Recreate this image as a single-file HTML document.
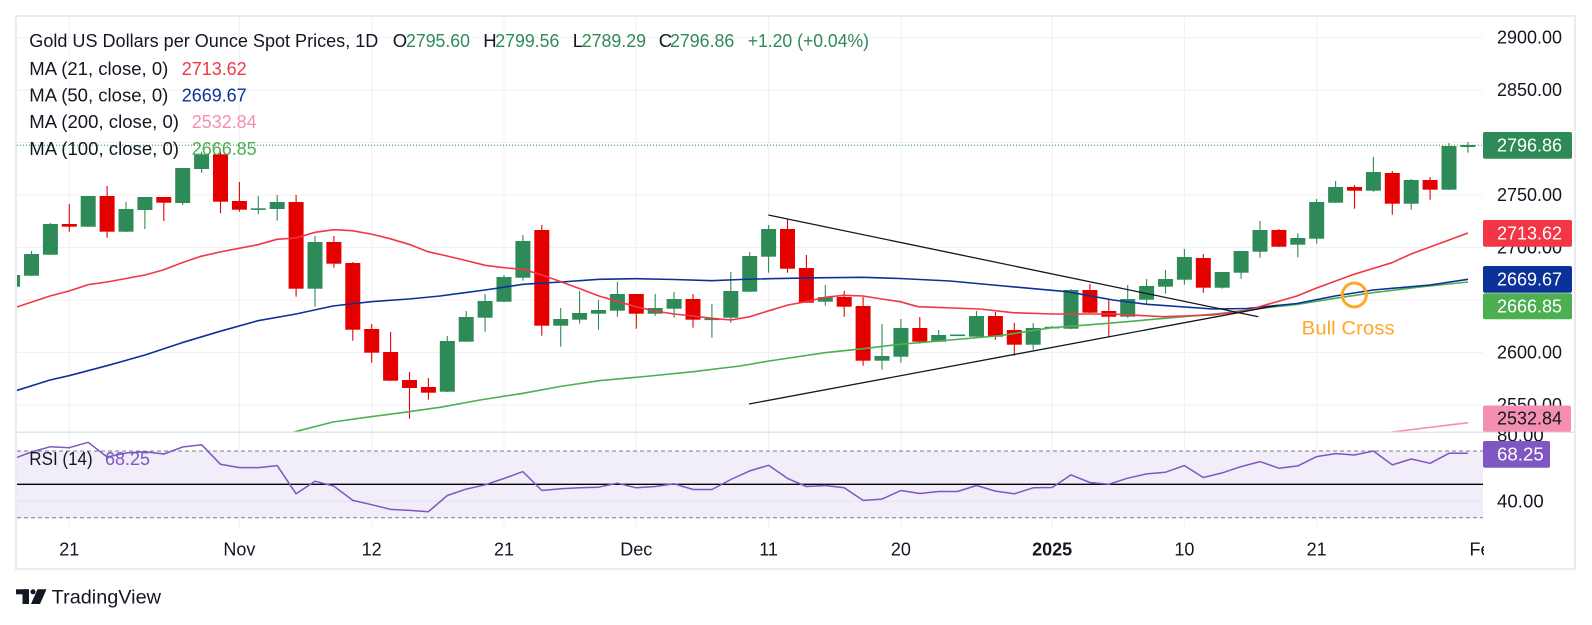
<!DOCTYPE html>
<html><head><meta charset="utf-8"><style>
html,body{margin:0;padding:0;background:#fff;width:1592px;height:625px;overflow:hidden}
svg{display:block}
text{font-family:"Liberation Sans",sans-serif;dominant-baseline:central}
</style></head><body>
<svg width="1592" height="625" viewBox="0 0 1592 625" xmlns="http://www.w3.org/2000/svg">
<defs>
<clipPath id="cp"><rect x="17" y="17" width="1466" height="415"/></clipPath>
<clipPath id="cr"><rect x="17" y="433" width="1466" height="94"/></clipPath>
<clipPath id="cx"><rect x="17" y="530" width="1467" height="38"/></clipPath>
</defs>
<rect width="1592" height="625" fill="#fff"/>
<!-- grid price -->
<g stroke="#F0F1F5" stroke-width="1">
<line x1="17" y1="37.5" x2="1483" y2="37.5"/><line x1="17" y1="90" x2="1483" y2="90"/><line x1="17" y1="142.5" x2="1483" y2="142.5"/><line x1="17" y1="195" x2="1483" y2="195"/><line x1="17" y1="247.5" x2="1483" y2="247.5"/><line x1="17" y1="300" x2="1483" y2="300"/><line x1="17" y1="352.5" x2="1483" y2="352.5"/><line x1="17" y1="405" x2="1483" y2="405"/>
<line x1="17" y1="501.3" x2="1483" y2="501.3"/>
<g>
<line x1="69.3" y1="17" x2="69.3" y2="527"/><line x1="239.4" y1="17" x2="239.4" y2="527"/><line x1="371.7" y1="17" x2="371.7" y2="527"/><line x1="504" y1="17" x2="504" y2="527"/><line x1="636.3" y1="17" x2="636.3" y2="527"/><line x1="768.6" y1="17" x2="768.6" y2="527"/><line x1="900.9" y1="17" x2="900.9" y2="527"/><line x1="1052.1" y1="17" x2="1052.1" y2="527"/><line x1="1184.4" y1="17" x2="1184.4" y2="527"/><line x1="1316.7" y1="17" x2="1316.7" y2="527"/>
</g>
</g>
<!-- price line dotted -->
<line x1="17" y1="145.3" x2="1483" y2="145.3" stroke="#2E8B57" stroke-width="1" stroke-dasharray="1 2"/>
<!-- candles -->
<g clip-path="url(#cp)">
<g stroke="#2E8B57" stroke-width="1.1">
<line x1="12.6" y1="272" x2="12.6" y2="290"/><line x1="31.5" y1="251" x2="31.5" y2="276"/><line x1="50.4" y1="223" x2="50.4" y2="255"/><line x1="88.2" y1="196" x2="88.2" y2="227"/><line x1="126" y1="202" x2="126" y2="232"/><line x1="144.9" y1="197" x2="144.9" y2="229"/><line x1="182.7" y1="168" x2="182.7" y2="205"/><line x1="201.6" y1="151.7" x2="201.6" y2="172.7"/><line x1="258.3" y1="196" x2="258.3" y2="214.3"/><line x1="277.2" y1="195" x2="277.2" y2="220.7"/><line x1="315" y1="236" x2="315" y2="306.7"/><line x1="447.3" y1="336" x2="447.3" y2="392"/><line x1="466.2" y1="311" x2="466.2" y2="342"/><line x1="485.1" y1="294" x2="485.1" y2="331.7"/><line x1="504" y1="275" x2="504" y2="302"/><line x1="522.9" y1="235" x2="522.9" y2="280.7"/><line x1="560.7" y1="308" x2="560.7" y2="346.7"/><line x1="579.6" y1="291" x2="579.6" y2="323.7"/><line x1="598.5" y1="300" x2="598.5" y2="329.7"/><line x1="617.4" y1="282" x2="617.4" y2="316.7"/><line x1="655.2" y1="294" x2="655.2" y2="315.7"/><line x1="674.1" y1="292" x2="674.1" y2="317.7"/><line x1="711.9" y1="304" x2="711.9" y2="337.7"/><line x1="730.8" y1="272" x2="730.8" y2="322.7"/><line x1="749.7" y1="252" x2="749.7" y2="292"/><line x1="768.6" y1="225" x2="768.6" y2="272.7"/><line x1="825.3" y1="285" x2="825.3" y2="305.7"/><line x1="882" y1="324" x2="882" y2="369.7"/><line x1="900.9" y1="319" x2="900.9" y2="362.7"/><line x1="938.7" y1="330" x2="938.7" y2="342"/><line x1="976.5" y1="311" x2="976.5" y2="337"/><line x1="1033.2" y1="323" x2="1033.2" y2="349.7"/><line x1="1052.1" y1="326" x2="1052.1" y2="328.5"/><line x1="1071" y1="289" x2="1071" y2="329"/><line x1="1127.7" y1="285" x2="1127.7" y2="317.7"/><line x1="1146.6" y1="279" x2="1146.6" y2="304.7"/><line x1="1165.5" y1="270" x2="1165.5" y2="293.7"/><line x1="1184.4" y1="249" x2="1184.4" y2="284.7"/><line x1="1222.2" y1="272" x2="1222.2" y2="288.7"/><line x1="1241.1" y1="251" x2="1241.1" y2="278.7"/><line x1="1260" y1="221" x2="1260" y2="257.7"/><line x1="1297.8" y1="233.3" x2="1297.8" y2="257.3"/><line x1="1316.7" y1="199" x2="1316.7" y2="243.7"/><line x1="1335.6" y1="181" x2="1335.6" y2="203"/><line x1="1373.4" y1="157" x2="1373.4" y2="191.7"/><line x1="1411.2" y1="179" x2="1411.2" y2="209.7"/><line x1="1449" y1="143" x2="1449" y2="190"/><line x1="1467.9" y1="142" x2="1467.9" y2="152.7"/>
</g>
<g fill="#2E8B57">
<rect x="5.1" y="275" width="15" height="11.7"/><rect x="24" y="254" width="15" height="21.7"/><rect x="42.9" y="224" width="15" height="30.7"/><rect x="80.7" y="196" width="15" height="30.7"/><rect x="118.5" y="209" width="15" height="22.7"/><rect x="137.4" y="197" width="15" height="13"/><rect x="175.2" y="168" width="15" height="35"/><rect x="194.1" y="154.3" width="15" height="14.7"/><rect x="250.8" y="208.3" width="15" height="1.6"/><rect x="269.7" y="202" width="15" height="7"/><rect x="307.5" y="242" width="15" height="46.7"/><rect x="439.8" y="341" width="15" height="50.7"/><rect x="458.7" y="317" width="15" height="24.7"/><rect x="477.6" y="301" width="15" height="16.7"/><rect x="496.5" y="277" width="15" height="24.7"/><rect x="515.4" y="241" width="15" height="36.7"/><rect x="553.2" y="319" width="15" height="6.7"/><rect x="572.1" y="313" width="15" height="6.7"/><rect x="591" y="310" width="15" height="3.7"/><rect x="609.9" y="294" width="15" height="16.7"/><rect x="647.7" y="308" width="15" height="5.7"/><rect x="666.6" y="299" width="15" height="9.7"/><rect x="704.4" y="318.5" width="15" height="1.6"/><rect x="723.3" y="291" width="15" height="26.7"/><rect x="742.2" y="256" width="15" height="35.7"/><rect x="761.1" y="229" width="15" height="27.7"/><rect x="817.8" y="297" width="15" height="4.7"/><rect x="874.5" y="356" width="15" height="4.7"/><rect x="893.4" y="328" width="15" height="28.7"/><rect x="931.2" y="335" width="15" height="6.7"/><rect x="950.1" y="334.5" width="15" height="1.6"/><rect x="969" y="316" width="15" height="20.7"/><rect x="1025.7" y="328" width="15" height="16.7"/><rect x="1044.6" y="326.8" width="15" height="1.6"/><rect x="1063.5" y="290" width="15" height="38.7"/><rect x="1120.2" y="299" width="15" height="17.7"/><rect x="1139.1" y="286" width="15" height="13.7"/><rect x="1158" y="279" width="15" height="7.7"/><rect x="1176.9" y="257" width="15" height="22.7"/><rect x="1214.7" y="272" width="15" height="15.7"/><rect x="1233.6" y="251" width="15" height="21.7"/><rect x="1252.5" y="230" width="15" height="21.7"/><rect x="1290.3" y="238" width="15" height="6.7"/><rect x="1309.2" y="202" width="15" height="36.7"/><rect x="1328.1" y="187" width="15" height="15.7"/><rect x="1365.9" y="172" width="15" height="18.7"/><rect x="1403.7" y="180" width="15" height="23.7"/><rect x="1441.5" y="146" width="15" height="43.7"/><rect x="1460.4" y="145" width="15" height="2"/>
</g>
<g stroke="#E50000" stroke-width="1.1">
<line x1="69.3" y1="204" x2="69.3" y2="231.7"/><line x1="107.1" y1="186" x2="107.1" y2="237.7"/><line x1="163.8" y1="197" x2="163.8" y2="221"/><line x1="220.5" y1="151.7" x2="220.5" y2="213.3"/><line x1="239.4" y1="182" x2="239.4" y2="211.7"/><line x1="296.1" y1="195" x2="296.1" y2="296.7"/><line x1="333.9" y1="236" x2="333.9" y2="267.7"/><line x1="352.8" y1="262" x2="352.8" y2="340.7"/><line x1="371.7" y1="324" x2="371.7" y2="362.7"/><line x1="390.6" y1="332" x2="390.6" y2="381"/><line x1="409.5" y1="372" x2="409.5" y2="418.7"/><line x1="428.4" y1="378" x2="428.4" y2="399.7"/><line x1="541.8" y1="225" x2="541.8" y2="335.7"/><line x1="636.3" y1="294" x2="636.3" y2="328.7"/><line x1="693" y1="294" x2="693" y2="327.7"/><line x1="787.5" y1="219" x2="787.5" y2="272.7"/><line x1="806.4" y1="255" x2="806.4" y2="303"/><line x1="844.2" y1="291" x2="844.2" y2="316.7"/><line x1="863.1" y1="297" x2="863.1" y2="365.7"/><line x1="919.8" y1="317" x2="919.8" y2="343.7"/><line x1="995.4" y1="312" x2="995.4" y2="339.7"/><line x1="1014.3" y1="323" x2="1014.3" y2="355.7"/><line x1="1089.9" y1="284" x2="1089.9" y2="313"/><line x1="1108.8" y1="300" x2="1108.8" y2="336.7"/><line x1="1203.3" y1="254" x2="1203.3" y2="292.7"/><line x1="1278.9" y1="229" x2="1278.9" y2="247"/><line x1="1354.5" y1="185" x2="1354.5" y2="208.7"/><line x1="1392.3" y1="171" x2="1392.3" y2="214.7"/><line x1="1430.1" y1="177" x2="1430.1" y2="199.7"/>
</g>
<g fill="#E50000">
<rect x="61.8" y="224" width="15" height="2.7"/><rect x="99.6" y="196" width="15" height="35.7"/><rect x="156.3" y="197" width="15" height="5.7"/><rect x="213" y="154.3" width="15" height="47.4"/><rect x="231.9" y="201" width="15" height="8.7"/><rect x="288.6" y="202" width="15" height="86.7"/><rect x="326.4" y="242" width="15" height="21.7"/><rect x="345.3" y="263" width="15" height="66.7"/><rect x="364.2" y="329" width="15" height="23.7"/><rect x="383.1" y="352" width="15" height="28.7"/><rect x="402" y="380" width="15" height="8"/><rect x="420.9" y="387" width="15" height="5.7"/><rect x="534.3" y="230" width="15" height="95.7"/><rect x="628.8" y="294" width="15" height="19.7"/><rect x="685.5" y="299" width="15" height="20.7"/><rect x="780" y="229" width="15" height="39.7"/><rect x="798.9" y="268" width="15" height="34.7"/><rect x="836.7" y="297" width="15" height="9.7"/><rect x="855.6" y="306" width="15" height="54.7"/><rect x="912.3" y="328" width="15" height="13.7"/><rect x="987.9" y="316" width="15" height="20.7"/><rect x="1006.8" y="330" width="15" height="14.7"/><rect x="1082.4" y="290" width="15" height="22.7"/><rect x="1101.3" y="311" width="15" height="5.7"/><rect x="1195.8" y="258" width="15" height="29.7"/><rect x="1271.4" y="230" width="15" height="16.7"/><rect x="1347" y="187" width="15" height="3.7"/><rect x="1384.8" y="173" width="15" height="30.7"/><rect x="1422.6" y="180" width="15" height="9.7"/>
</g>
<!-- MAs -->
<g fill="none" stroke-width="1.6" stroke-linejoin="round">
<polyline stroke="#4CAF50" points="290,433 333,422 371,416.7 409,411.7 440,407.3 480,400 523,393.3 560,386.5 599,380.7 650,376 693,371.7 740,366 769,361 825,352.7 863,348.7 900,344.3 950,340 1000,335.7 1052,327.7 1108,323.3 1165,318.3 1222,313.3 1260,308.3 1297,304.5 1335,298.3 1373,292.7 1420,287 1468,282"/>
<polyline stroke="#0C3299" points="16,390.7 50,380 69,375.7 107,365.7 145,355 182,342.7 220,331.3 258,320.7 296,314 333,306 371,301.7 409,299 440,296 460,293.3 485,290 523,284.3 561,282 599,279.3 636,278.7 674,279.5 712,280.7 740,279.5 769,278.7 816,277.8 863,277.3 900,278.5 950,281 993,285 1067,291.7 1113,300 1147,304.3 1213,309 1247,308.5 1297,303.5 1335,296 1373,290 1430,285 1468,279.3"/>
<polyline stroke="#F23645" points="16,307.3 50,296 69,291 88,284.7 107,282 126,278.5 145,275 163,270 182,262.7 201,256.3 220,252 239,248.3 258,244.7 277,239.3 296,238 315,232.3 334,229.7 352,230.7 371,234 390,238.7 409,244.3 428,251.7 447,256 466,260.5 485,265.3 504,267.7 523,269.3 542,275 561,281.7 580,288.7 599,296 617,301.3 636,306.7 655,311 674,314 693,316 712,318.3 731,320 750,316.7 769,310.7 788,305 806,301.7 825,297.3 844,295.3 863,296 882,299 900,301.7 918,306.7 980,309 1013,312.7 1053,314 1113,314 1163,316.7 1213,315 1247,310.7 1260,306.5 1297,296 1316,288.3 1335,281.3 1354,274.3 1373,268.5 1392,262.7 1411,254 1430,247 1449,240 1468,233"/>
<polyline stroke="#F48FB1" points="1380,433.5 1468,422.7"/>
</g>
<!-- trendlines -->
<g stroke="#131722" stroke-width="1.3">
<line x1="768.3" y1="215" x2="1258.3" y2="316.7"/>
<line x1="749" y1="404" x2="1277.7" y2="305.3"/>
</g>
<circle cx="1354.3" cy="295" r="12" fill="none" stroke="#FFA726" stroke-width="3"/>
<text x="1301.7" y="328.3" font-size="19.5" fill="#FFA726" textLength="93" lengthAdjust="spacingAndGlyphs">Bull Cross</text>
</g>
<!-- RSI pane -->
<g clip-path="url(#cr)">
<rect x="17" y="451" width="1466" height="66.7" fill="#F1EDF9"/>
<line x1="17" y1="501.3" x2="1483" y2="501.3" stroke="#E6E2F0" stroke-width="1"/>
<line x1="17" y1="451" x2="1483" y2="451" stroke="#787B86" stroke-width="1" stroke-dasharray="4 3"/>
<line x1="17" y1="517.7" x2="1483" y2="517.7" stroke="#787B86" stroke-width="1" stroke-dasharray="4 3"/>
<line x1="17" y1="484.3" x2="1483" y2="484.3" stroke="#000" stroke-width="1.3"/>
<polyline fill="none" stroke="#7E57C2" stroke-width="1.5" stroke-linejoin="round" points="12.6,459 31.5,452 50.4,446.7 69.3,447.7 88.2,442.3 107.1,457 126,453 144.9,451.7 163.8,454 182.7,447 201.6,444.7 220.5,464.3 239.4,467.6 258.3,467.6 277.2,465.6 296.1,493.8 315,481.2 333.9,486.2 352.8,500.4 371.7,504.7 390.6,509.4 409.5,510.4 428.4,511.7 447.3,495.5 466.2,489.1 485.1,484.8 504,478.5 522.9,471.6 541.8,490.5 560.7,488.8 579.6,487.8 598.5,487.2 617.4,483.2 636.3,487.8 655.2,486.5 674.1,483.8 693,489.5 711.9,489.5 730.8,479.5 749.7,470.9 768.6,465.3 787.5,478.4 806.4,486.5 825.3,485.5 844.2,487.8 863.1,500.4 882,499.1 900.9,490.5 919.8,493.5 938.7,491.5 957.6,491.5 976.5,485.5 995.4,491.1 1014.3,493.8 1033.2,487.8 1052.1,487.5 1071,474.9 1089.9,482.5 1108.8,484.2 1127.7,478.2 1146.6,473.9 1165.5,472.2 1184.4,465.6 1203.3,477.5 1222.2,472.9 1241.1,466.6 1260,461.6 1278.9,468.2 1297.8,465.9 1316.7,456.6 1335.6,453.6 1354.5,455 1373.4,451 1392.3,464.9 1411.2,459 1430.1,463.3 1449,453.3 1467.9,453.3"/>
</g>
<!-- pane separator & frame -->
<line x1="16" y1="432.3" x2="1576" y2="432.3" stroke="#E0E3EB" stroke-width="1.5"/>
<rect x="16" y="16" width="1559" height="553" fill="none" stroke="#E9EBF1" stroke-width="2"/>
<!-- legend -->
<g font-size="18.5" fill="#131722">
<text x="29.3" y="40.3" textLength="349" lengthAdjust="spacingAndGlyphs">Gold US Dollars per Ounce Spot Prices, 1D</text>
<text x="392.7" y="40.3">O</text><text x="406" y="40.3" fill="#2E8B57" textLength="64" lengthAdjust="spacingAndGlyphs">2795.60</text>
<text x="483.3" y="40.3">H</text><text x="495.3" y="40.3" fill="#2E8B57" textLength="64" lengthAdjust="spacingAndGlyphs">2799.56</text>
<text x="572.7" y="40.3">L</text><text x="581.7" y="40.3" fill="#2E8B57" textLength="64.3" lengthAdjust="spacingAndGlyphs">2789.29</text>
<text x="658.7" y="40.3">C</text><text x="670" y="40.3" fill="#2E8B57" textLength="64.3" lengthAdjust="spacingAndGlyphs">2796.86</text>
<text x="747.7" y="40.3" fill="#2E8B57" textLength="121.3" lengthAdjust="spacingAndGlyphs">+1.20 (+0.04%)</text>
<text x="29.3" y="68.3" textLength="139" lengthAdjust="spacingAndGlyphs">MA (21, close, 0)</text>
<text x="181.7" y="68.3" fill="#F23645" textLength="65" lengthAdjust="spacingAndGlyphs">2713.62</text>
<text x="29.3" y="95" textLength="139" lengthAdjust="spacingAndGlyphs">MA (50, close, 0)</text>
<text x="181.7" y="95" fill="#0C3299" textLength="65" lengthAdjust="spacingAndGlyphs">2669.67</text>
<text x="29.3" y="121.7" textLength="149.7" lengthAdjust="spacingAndGlyphs">MA (200, close, 0)</text>
<text x="191.7" y="121.7" fill="#F48FB1" textLength="65" lengthAdjust="spacingAndGlyphs">2532.84</text>
<text x="29.3" y="148.3" textLength="149.7" lengthAdjust="spacingAndGlyphs">MA (100, close, 0)</text>
<text x="191.7" y="148.3" fill="#4CAF50" textLength="65" lengthAdjust="spacingAndGlyphs">2666.85</text>
<text x="29.3" y="458.3" textLength="63.4" lengthAdjust="spacingAndGlyphs">RSI (14)</text>
<text x="105" y="458.3" fill="#7E57C2" textLength="45" lengthAdjust="spacingAndGlyphs">68.25</text>
</g>
<!-- right axis -->
<g font-size="18" fill="#131722">
<text x="1497" y="37.5" textLength="65" lengthAdjust="spacingAndGlyphs">2900.00</text>
<text x="1497" y="90" textLength="65" lengthAdjust="spacingAndGlyphs">2850.00</text>
<text x="1497" y="195" textLength="65" lengthAdjust="spacingAndGlyphs">2750.00</text>
<text x="1497" y="247.5" textLength="65" lengthAdjust="spacingAndGlyphs">2700.00</text>
<text x="1497" y="352.5" textLength="65" lengthAdjust="spacingAndGlyphs">2600.00</text>
<text x="1497" y="405" textLength="65" lengthAdjust="spacingAndGlyphs">2550.00</text>
<text x="1497" y="435.5" textLength="46.7" lengthAdjust="spacingAndGlyphs">80.00</text>
<text x="1497" y="501.3" textLength="46.7" lengthAdjust="spacingAndGlyphs">40.00</text>
</g>
<g font-size="18">
<rect x="1483" y="132" width="89" height="26.7" rx="2" fill="#2E8B57"/>
<text x="1497" y="145.3" fill="#fff" textLength="65" lengthAdjust="spacingAndGlyphs">2796.86</text>
<rect x="1483" y="220" width="89" height="26.7" rx="2" fill="#F23645"/>
<text x="1497" y="233.3" fill="#fff" textLength="65" lengthAdjust="spacingAndGlyphs">2713.62</text>
<rect x="1483" y="266" width="89" height="26.7" rx="2" fill="#0C3299"/>
<text x="1497" y="279.3" fill="#fff" textLength="65" lengthAdjust="spacingAndGlyphs">2669.67</text>
<rect x="1483" y="293.3" width="89" height="26" rx="2" fill="#4CAF50"/>
<text x="1497" y="306.3" fill="#fff" textLength="65" lengthAdjust="spacingAndGlyphs">2666.85</text>
<rect x="1483" y="405.5" width="88" height="26.2" rx="2" fill="#F48FB1"/>
<text x="1497" y="418.6" fill="#131722" textLength="65" lengthAdjust="spacingAndGlyphs">2532.84</text>
<rect x="1483" y="441" width="67" height="26.7" rx="2" fill="#7E57C2"/>
<text x="1497" y="454.3" fill="#fff" textLength="46.7" lengthAdjust="spacingAndGlyphs">68.25</text>
</g>
<!-- x axis -->
<g font-size="18" fill="#131722" text-anchor="middle">
<text x="69.3" y="549.3">21</text>
<text x="239.4" y="549.3">Nov</text>
<text x="371.7" y="549.3">12</text>
<text x="504" y="549.3">21</text>
<text x="636.3" y="549.3">Dec</text>
<text x="768.6" y="549.3">11</text>
<text x="900.9" y="549.3">20</text>
<text x="1052.1" y="549.3" font-weight="bold">2025</text>
<text x="1184.4" y="549.3">10</text>
<text x="1316.7" y="549.3">21</text>
<g clip-path="url(#cx)"><text x="1485" y="549.3">Feb</text></g>
</g>
<!-- TradingView logo -->
<g fill="#131722">
<rect x="16" y="589.3" width="13" height="5"/>
<rect x="22.5" y="589.3" width="6.5" height="14.7"/>
<circle cx="33" cy="591.8" r="2.5"/>
<polygon points="37.5,589.3 46.5,589.3 40,604 31,604"/>
</g>
<text x="51.7" y="597.5" font-size="19.5" fill="#131722" textLength="109.3" lengthAdjust="spacingAndGlyphs">TradingView</text>
</svg>
</body></html>
